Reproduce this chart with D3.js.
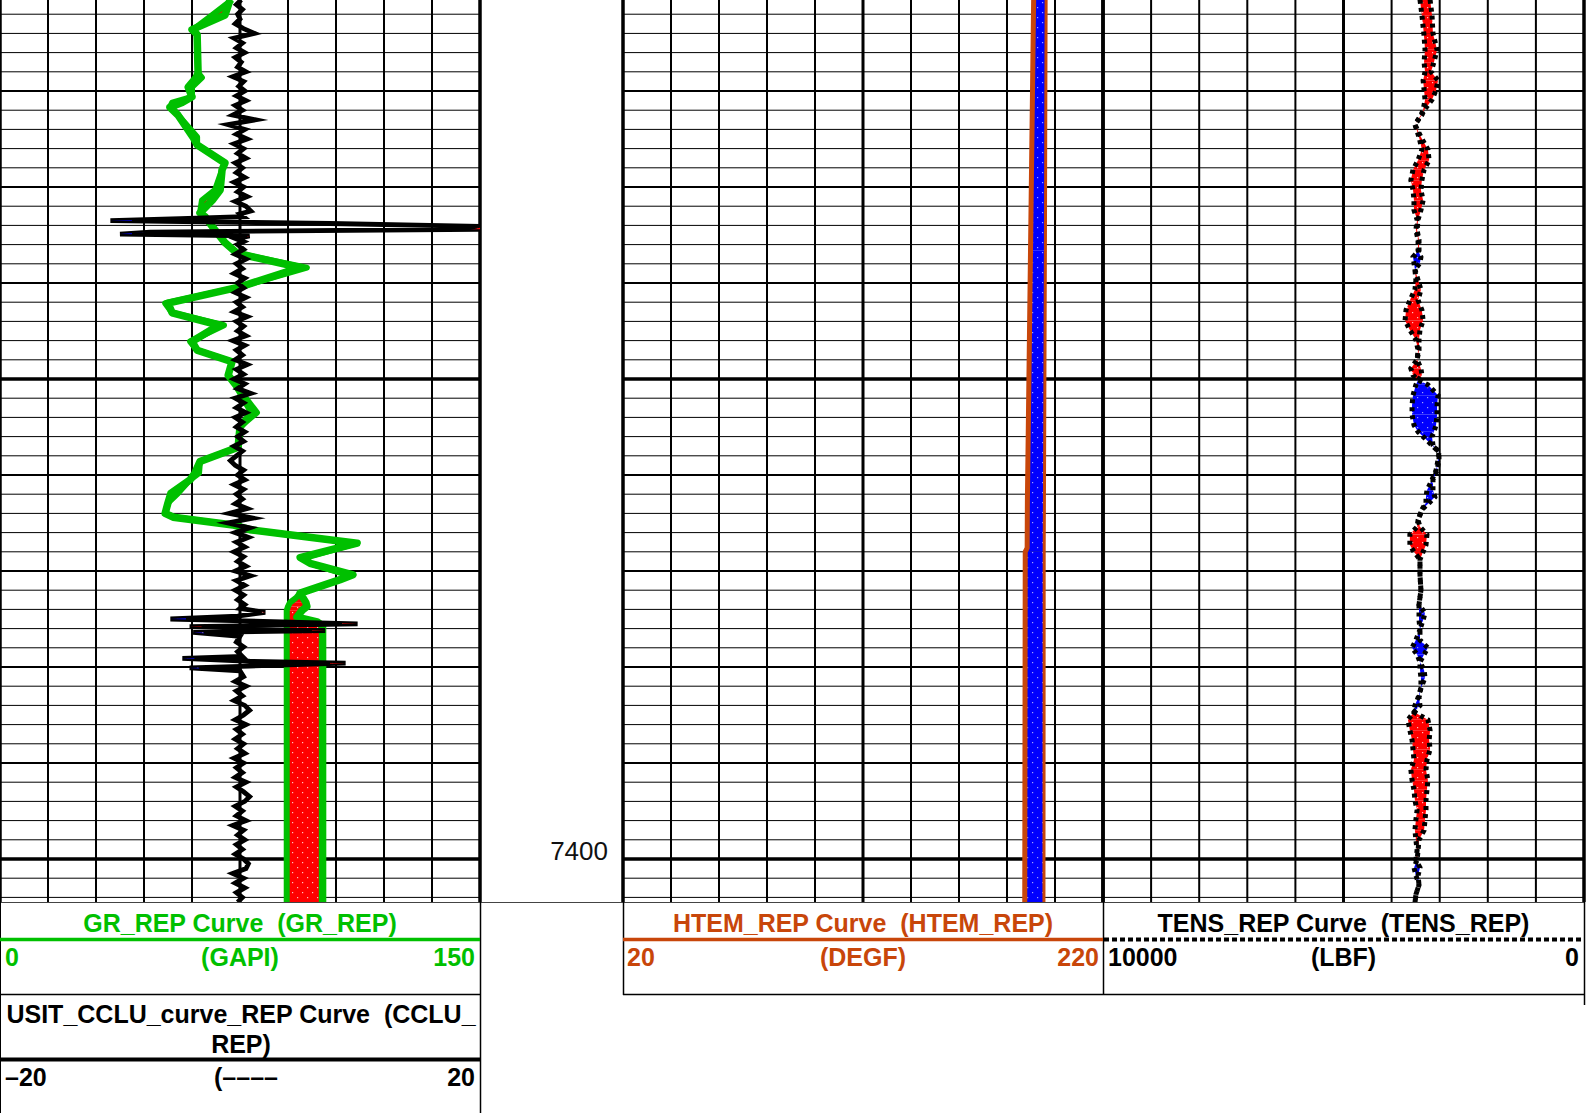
<!DOCTYPE html>
<html><head><meta charset="utf-8">
<script src="https://cdn.jsdelivr.net/npm/d3@7"></script>
<style>
body{margin:0;background:#fff}
svg{display:block}
text{font-family:"Liberation Sans",Arial,sans-serif;white-space:pre}
</style>
</head><body>
<svg id="c" width="1596" height="1113"></svg>
<script>
// ---------------- DATA ----------------
// depth axis (ft)
const depthTop = 7310.52, depthBottom = 7404.48;
const depthLabels = [7400];

// GR_REP (GAPI), two traces with fill between them
const grDepth = [7310.5,7312.1,7313.6,7314.1,7318.1,7318.6,7319.6,7320.6,7321.2,7321.7,7322.5,7324.8,7325.6,7327.5,7328.2,7330.3,7331.4,7332.7,7333.1,7334.5,7335.8,7336.9,7338.4,7340.4,7342.1,7343.1,7344.4,7346.1,7347.0,7348.2,7349.6,7350.8,7353.5,7355.0,7357.1,7358.6,7359.8,7360.5,7361.9,7362.9,7364.0,7364.4,7365.2,7365.7,7367.1,7368.6,7369.2,7370.4,7370.9,7372.3,7372.8,7373.3,7373.7,7374.1,7374.8,7375.3,7375.7,7404.6];
const grA = [71.9,70.3,60.0,61.6,61.9,61.3,58.8,60.0,56.9,53.1,55.6,60.3,61.6,70.3,69.4,68.8,66.3,62.5,64.1,67.2,70.3,74.1,93.8,75.0,52.5,53.8,68.4,60.0,61.6,72.5,71.3,74.1,78.8,75.0,74.4,62.5,60.9,59.4,53.4,52.5,51.6,54.1,72.8,78.1,111.6,93.8,96.9,110.3,106.3,93.8,94.7,95.6,95.9,94.4,92.8,99.1,100.8,100.8];
const grB = [72.5,66.3,60.3,61.6,61.9,63.1,60.0,60.0,53.8,53.1,55.6,61.6,61.6,70.3,69.4,67.2,63.1,62.5,64.1,67.2,70.3,74.1,95.9,75.0,51.6,53.8,70.0,59.4,61.6,72.5,71.3,74.1,80.3,75.0,74.4,62.5,62.2,59.4,55.6,52.5,51.6,54.7,72.8,78.1,111.6,95.6,96.9,108.4,106.3,93.8,92.5,90.6,90.0,89.6,89.6,89.6,89.6,89.6];

// USIT_CCLU (-20..20): regular samples every 0.5 ft + spike zones
const cluStep = 0.5;
const cluTopStart = 7310.5;
const cluTop = [0.1,-0.3,0.2,-0.2,0.0,-0.4,0.3,1.2,-0.5,0.2,-0.3,0.4,-0.4,0.1,-0.2,0.5,-0.6,0.3,-0.1,0.4,-0.3,0.5,-0.4,0.2,-0.6,1.3,-1.0,0.4,-0.3,0.6,-0.5,0.3,-0.2,0.5,-0.4,0.2,-0.3,0.4,-0.5,0.3,-0.2,0.6,-0.4,0.5,0.9];
const cluMidStart = 7336.0;
const cluMid = [-0.2,0.3,-0.4,0.5,-0.3,0.2,-0.5,0.4,-0.2,0.3,-0.4,0.5,-0.3,0.2,-0.5,0.6,-0.3,0.3,-0.2,0.5,-0.6,0.4,-0.3,0.2,-0.4,0.6,-0.3,0.3,-0.5,0.4,-0.2,0.9,-0.4,0.3,-0.3,0.5,-0.4,0.2,-0.3,0.4,-0.2,0.3,-0.5,0.2,-0.3,-0.8,-0.4,0.3,-0.2,0.4,-0.5,0.3,-0.3,0.2,-0.4,0.6,-0.9,1.1,-1.0,0.8,-0.4,0.7,-0.3,0.4,-0.5,0.3,-0.2,0.5,-0.4,0.9,-0.3,0.4,-0.4,0.3,-0.2,0.4];
const cluLowStart = 7381.0;
const cluLow = [0.3,-0.4,0.5,-0.3,0.2,-0.5,0.4,0.8,0.3,-0.4,0.5,-0.3,0.2,-0.4,0.3,-0.2,0.4,-0.5,0.3,-0.3,0.2,-0.4,0.5,-0.3,0.3,0.8,0.4,-0.4,0.2,-0.3,0.5,-0.6,0.3,-0.2,0.4,-0.3,0.2,-0.4,0.3,0.7,0.5,-0.6,0.3,-0.4,0.4,-0.3,0.2,-0.2];
const cluSpike1Depth = [7332.8,7333.1,7333.3,7333.5,7333.8,7334.1,7334.4,7334.7,7334.9,7335.1,7335.4,7335.7];
const cluSpike1 = [0,0.3,-5,-10.8,7.5,20,20,-7.5,-10,0.8,-0.3,0.3];
const cluSpike1B = [0,0.3,-4,-9,6,20,19,-6,-9,0.6,-0.3,0.3];
const cluSpike2Depth = [7373.9,7374.3,7374.7,7375.0,7375.2,7375.5,7375.8,7376.2,7376.4,7376.8,7377.4,7377.9,7378.4,7378.9,7379.1,7379.4,7379.6,7379.9,7380.1,7380.4];
const cluSpike2 = [0,2.1,-0.2,-5.8,0.3,9.8,-4.2,7.1,-3.9,0,-0.3,0.3,-0.2,0.2,-4.8,0.8,8.8,0.8,-4.2,0];
const cluSpike2B = [0,1.8,-0.2,-4.5,0.3,8.5,-3.2,6,-3,0,-0.3,0.3,-0.2,0.2,-3.8,0.8,7.5,0.8,-3.4,0];

// HTEM_REP (DEGF)
const htDepth = [7310.5,7336.6,7362.6,7367.6,7368.0,7404.6];
const htA = [191.1,189.8,188.5,188.4,187.6,187.4];
const htB = [196.3,196.0,195.6,195.5,195.5,195.4];

// TENS_REP (LBF)
const tnDepth = [7310.5,7312.1,7314.0,7315.7,7317.0,7318.0,7318.9,7319.9,7320.9,7322.0,7322.5,7323.5,7324.8,7326.1,7327.2,7328.2,7329.3,7330.3,7331.4,7332.4,7333.4,7334.5,7335.5,7336.6,7337.3,7337.9,7338.6,7339.7,7340.7,7341.8,7342.8,7343.9,7344.9,7345.9,7347.0,7348.0,7348.9,7349.6,7350.1,7350.6,7351.7,7352.7,7353.7,7354.8,7355.5,7356.0,7356.9,7357.6,7358.4,7359.5,7360.5,7361.6,7362.3,7362.9,7363.6,7364.7,7365.4,7366.2,7367.3,7368.0,7368.8,7370.4,7372.0,7373.5,7374.4,7375.1,7376.1,7377.2,7378.0,7378.7,7379.5,7380.3,7381.1,7382.2,7383.2,7384.0,7384.7,7385.5,7386.6,7387.6,7388.6,7389.7,7390.7,7391.8,7392.8,7393.9,7394.9,7395.9,7397.0,7398.0,7399.1,7400.1,7400.9,7401.7,7402.7,7403.7,7404.6];
const tnA = [3200,3160,3140,3055,3120,3180,3035,3075,3160,3325,3370,3515,3390,3245,3220,3325,3370,3390,3345,3390,3450,3470,3430,3430,3555,3535,3515,3450,3390,3450,3370,3345,3410,3430,3430,3470,3390,3370,3450,3495,3555,3575,3575,3535,3450,3345,3160,3015,3035,3075,3160,3265,3285,3285,3370,3450,3410,3265,3285,3345,3410,3410,3390,3430,3430,3430,3410,3495,3575,3470,3410,3410,3390,3390,3450,3515,3535,3245,3200,3220,3200,3265,3285,3245,3265,3285,3285,3305,3325,3430,3450,3470,3535,3495,3430,3495,3515];
const tnB = [3410,3370,3330,3305,3325,3305,3345,3325,3305,3345,3390,3515,3430,3370,3450,3555,3600,3555,3535,3535,3470,3495,3450,3450,3390,3410,3515,3495,3515,3620,3700,3720,3620,3495,3450,3470,3600,3555,3450,3245,3035,3055,3055,3075,3120,3160,3140,3015,3015,3055,3140,3140,3100,3220,3370,3450,3470,3620,3620,3535,3410,3410,3390,3430,3305,3345,3410,3410,3245,3325,3410,3325,3305,3390,3430,3410,3535,3660,3620,3575,3555,3535,3600,3575,3535,3515,3470,3495,3515,3495,3470,3495,3410,3450,3430,3495,3515];

// ---------------- DRAWING ----------------
const svg = d3.select("#c");
const plotBottom = 902;
const y = d3.scaleLinear().domain([depthTop, depthBottom]).range([0, plotBottom]);
const T1 = [0, 480], T2 = [623, 1103], T3 = [1103, 1584];
const grX = d3.scaleLinear().domain([0, 150]).range(T1);
const clX = d3.scaleLinear().domain([-20, 20]).range(T1);
const htX = d3.scaleLinear().domain([20, 220]).range(T2);
const tnX = d3.scaleLinear().domain([10000, 0]).range(T3);
const GREEN = "#00c000", ORANGE = "#c8460a";

const defs = svg.append("defs");
function pat(id, bg, dot) {
  const p = defs.append("pattern").attr("id", id).attr("patternUnits", "userSpaceOnUse")
    .attr("width", 10).attr("height", 10);
  p.append("rect").attr("width", 10).attr("height", 10).attr("fill", bg);
  p.append("rect").attr("x", 2).attr("y", 2).attr("width", 1.2).attr("height", 1.2).attr("fill", dot);
  p.append("rect").attr("x", 7).attr("y", 7).attr("width", 1.2).attr("height", 1.2).attr("fill", dot);
}
pat("pr", "#ff0000", "#ffc0c0");
pat("pb", "#0000ff", "#a0a0ff");
[["c1", T1], ["c2", T2], ["c3", T3]].forEach(([id, t]) => {
  defs.append("clipPath").attr("id", id).append("rect")
    .attr("x", t[0]).attr("y", 0).attr("width", t[1] - t[0]).attr("height", plotBottom);
});

// grid
const grid = svg.append("g");
const gridDepths = d3.range(7312, 7405, 2);
[T1, T2, T3].forEach(t => {
  gridDepths.forEach(d => {
    const w = d % 50 === 0 ? 3.5 : (d % 10 === 0 ? 2.2 : 1);
    grid.append("line").attr("x1", t[0]).attr("x2", t[1]).attr("y1", y(d)).attr("y2", y(d))
      .attr("stroke", "#000").attr("stroke-width", w);
  });
  const div = d3.scaleLinear().domain([0, 10]).range(t);
  d3.range(0, 11).forEach(k => {
    const w = (k === 0 || k === 10) ? 3.5 : (k === 5 ? 3 : 2);
    grid.append("line").attr("x1", div(k)).attr("x2", div(k)).attr("y1", 0).attr("y2", plotBottom)
      .attr("stroke", "#000").attr("stroke-width", w);
  });
});

function fillBetween(g, depths, a, b, xs) {
  for (let i = 0; i < depths.length - 1; i++) {
    const s = (xs(b[i]) - xs(a[i])) + (xs(b[i + 1]) - xs(a[i + 1]));
    if (Math.abs(s) < 0.01) continue;
    const area = d3.area().y(j => y(depths[j])).x0(j => xs(a[j])).x1(j => xs(b[j]));
    g.append("path").attr("d", area([i, i + 1])).attr("fill", s < 0 ? "url(#pr)" : "url(#pb)");
  }
}
function curve(g, depths, vals, xs, color, w, dash, join) {
  const line = d3.line().x(i => xs(vals[i])).y(i => y(depths[i]));
  const p = g.append("path").attr("d", line(d3.range(depths.length)))
    .attr("fill", "none").attr("stroke", color).attr("stroke-width", w)
    .attr("stroke-linejoin", join || "miter");
  if (dash) p.attr("stroke-dasharray", dash);
  return p;
}

// Track 1: GR + CCLU
const g1 = svg.append("g").attr("clip-path", "url(#c1)");
fillBetween(g1, grDepth, grA, grB, grX);
curve(g1, grDepth, grB, grX, GREEN, 6, null, "round");
curve(g1, grDepth, grA, grX, GREEN, 7.5, null, "round");

const cluPts = [];
cluTop.forEach((v, i) => cluPts.push([cluTopStart + i * cluStep, v]));
cluSpike1Depth.forEach((d, i) => cluPts.push([d, cluSpike1[i]]));
cluMid.forEach((v, i) => cluPts.push([cluMidStart + i * cluStep, v]));
cluSpike2Depth.forEach((d, i) => cluPts.push([d, cluSpike2[i]]));
cluLow.forEach((v, i) => cluPts.push([cluLowStart + i * cluStep, v]));
cluPts.sort((p, q) => p[0] - q[0]);
g1.append("path").attr("d", d3.line().x(p => clX(p[1])).y(p => y(p[0]))(cluPts))
  .attr("fill", "none").attr("stroke", "#000").attr("stroke-width", 4.8)
  .attr("stroke-linejoin", "miter").attr("stroke-miterlimit", 6);
fillBetween(g1, cluSpike1Depth, cluSpike1, cluSpike1B, clX);
fillBetween(g1, cluSpike2Depth, cluSpike2, cluSpike2B, clX);
curve(g1, cluSpike1Depth, cluSpike1B, clX, "#000", 2.5);
curve(g1, cluSpike2Depth, cluSpike2B, clX, "#000", 2.5);

// Track 2: HTEM
const g2 = svg.append("g").attr("clip-path", "url(#c2)");
fillBetween(g2, htDepth, htA, htB, htX);
curve(g2, htDepth, htB, htX, ORANGE, 3);
curve(g2, htDepth, htA, htX, ORANGE, 5);

// Track 3: TENS
const g3 = svg.append("g").attr("clip-path", "url(#c3)");
fillBetween(g3, tnDepth, tnA, tnB, tnX);
curve(g3, tnDepth, tnB, tnX, "#000", 5, "4,4");
curve(g3, tnDepth, tnA, tnX, "#000", 5, "4,4");

// depth label
depthLabels.forEach(d => {
  svg.append("text").attr("x", 608).attr("y", y(d) + 1).attr("text-anchor", "end")
    .attr("font-size", 26).attr("fill", "#111").text(String(d));
});

// ---------------- HEADERS ----------------
const hd = svg.append("g");
function hline(x1, x2, yy, w, c, dash) {
  const l = hd.append("line").attr("x1", x1).attr("x2", x2).attr("y1", yy).attr("y2", yy)
    .attr("stroke", c || "#000").attr("stroke-width", w);
  if (dash) l.attr("stroke-dasharray", dash);
}
function vline(xx, y1, y2, w) {
  hd.append("line").attr("x1", xx).attr("x2", xx).attr("y1", y1).attr("y2", y2)
    .attr("stroke", "#000").attr("stroke-width", w);
}
function txt(x, yy, s, anchor, color) {
  hd.append("text").attr("x", x).attr("y", yy).attr("text-anchor", anchor)
    .attr("font-size", 25).attr("font-weight", "bold").attr("fill", color).text(s);
}
hline(0, 1584, plotBottom + 0.5, 1, "#444");
// track 1 header
vline(0.5, plotBottom, 1113, 1);
vline(480.5, plotBottom, 1113, 1.5);
hline(0, 481, 994.5, 1.5);
hline(0, 480, 939.5, 3.5, GREEN);
hline(0, 480, 1059.5, 4);
txt(240, 932, "GR_REP Curve  (GR_REP)", "middle", GREEN);
txt(5, 966, "0", "start", GREEN);
txt(240, 966, "(GAPI)", "middle", GREEN);
txt(475, 966, "150", "end", GREEN);
txt(241, 1023, "USIT_CCLU_curve_REP Curve  (CCLU_", "middle", "#000");
txt(241, 1053, "REP)", "middle", "#000");
txt(5, 1086, "\u201320", "start", "#000");
txt(246, 1086, "(\u2013\u2013\u2013\u2013", "middle", "#000");
txt(475, 1086, "20", "end", "#000");
// track 2/3 header
vline(623.5, plotBottom, 995, 1.5);
vline(1103.5, plotBottom, 995, 1.5);
vline(1584.5, plotBottom, 1005, 1.5);
hline(623, 1585, 994.5, 1.5);
hline(623, 1103, 939.5, 3.5, ORANGE);
hline(1104, 1584, 939.5, 4, "#000", "5,3");
txt(863, 932, "HTEM_REP Curve  (HTEM_REP)", "middle", ORANGE);
txt(627, 966, "20", "start", ORANGE);
txt(863, 966, "(DEGF)", "middle", ORANGE);
txt(1099, 966, "220", "end", ORANGE);
txt(1343.5, 932, "TENS_REP Curve  (TENS_REP)", "middle", "#000");
txt(1108, 966, "10000", "start", "#000");
txt(1343.5, 966, "(LBF)", "middle", "#000");
txt(1579, 966, "0", "end", "#000");
</script>
</body></html>
